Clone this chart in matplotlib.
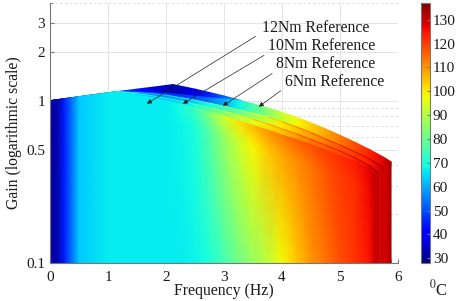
import numpy as np
import matplotlib
matplotlib.use("Agg")
import matplotlib.pyplot as plt
from matplotlib.ticker import NullFormatter, FixedLocator
from matplotlib.collections import LineCollection

plt.rcParams['font.family'] = ['Liberation Serif', 'DejaVu Serif']
plt.rcParams['mathtext.fontset'] = 'stix'

# ---------------- data ----------------
# cold "cap" band near the gain peak
cap_f = [1.15, 1.5, 1.75, 2.0, 2.12, 2.25, 2.5, 2.75, 3.0, 3.3]
cap_g = [1.137, 1.179, 1.209, 1.241, 1.257, 1.230, 1.179, 1.124, 1.070, 1.003]
cap_T = [50, 44, 38, 34, 33, 34, 38, 45, 52, 60]

# 6 Nm reference surface (outermost at high frequency)
f6 = [0, 1.15, 1.5, 1.75, 2.0, 2.25, 2.5, 2.75, 3.0, 3.25, 3.5, 3.75, 4.0, 4.25, 4.5, 4.75, 5.0, 5.25, 5.5, 5.75, 5.88]
g6 = [1.00, 1.137, 1.129, 1.121, 1.113, 1.090, 1.066, 1.044, 1.022, 1.006, 0.958, 0.905, 0.848, 0.790, 0.730, 0.670, 0.612, 0.556, 0.502, 0.449, 0.420]
T6 = [30, 55, 50, 48, 47, 48, 50, 54, 60, 68, 76, 84, 92, 98, 103, 108, 113, 118, 123, 128, 133]

# 8 Nm reference surface
f8 = [0, 1.15, 1.5, 1.75, 2.0, 2.25, 2.5, 2.75, 3.0, 3.25, 3.5, 3.75, 4.0, 4.25, 4.5, 4.75, 5.0, 5.25, 5.5, 5.74]
g8 = [1.00, 1.137, 1.121, 1.105, 1.082, 1.044, 1.007, 0.965, 0.924, 0.879, 0.836, 0.790, 0.741, 0.690, 0.637, 0.581, 0.533, 0.486, 0.439, 0.389]
T8 = [30, 60, 56, 56, 57, 60, 64, 69, 74, 79, 86, 93, 100, 105, 109, 113, 117, 120, 124, 130]

# 10 Nm reference surface
f10 = [0, 1.15, 1.5, 1.75, 2.0, 2.25, 2.5, 2.75, 3.0, 3.25, 3.5, 3.75, 4.0, 4.25, 4.5, 4.75, 5.0, 5.25, 5.5, 5.66]
g10 = [1.00, 1.137, 1.105, 1.074, 1.036, 0.993, 0.951, 0.905, 0.861, 0.813, 0.767, 0.720, 0.670, 0.624, 0.577, 0.533, 0.489, 0.446, 0.400, 0.357]
T10 = [30, 62, 62, 62, 63, 65, 69, 76, 83, 90, 96, 101, 105, 109, 113, 116, 119, 122, 126, 131]

# 12 Nm reference surface (front)
f12 = [0, 0.10, 0.25, 0.50, 1.00, 1.15, 1.5, 1.75, 2.0, 2.25, 2.5, 2.75, 3.0, 3.25, 3.5, 3.75, 4.0, 4.25, 4.5, 4.75, 5.0, 5.25, 5.5, 5.60]
g12 = [1.00, 1.012, 1.03, 1.06, 1.12, 1.137, 1.082, 1.044, 1.0, 0.951, 0.905, 0.855, 0.807, 0.751, 0.704, 0.661, 0.615, 0.577, 0.537, 0.496, 0.459, 0.424, 0.384, 0.342]
T12_top = [34, 31, 45, 63, 67, 67, 67, 67, 67, 69, 74, 84, 94, 101, 106, 110, 113, 116, 118, 120, 122, 124, 127, 131]
T12_mid = [34, 31, 45, 63, 67, 67, 67, 67, 67, 68, 70, 77, 86, 93, 99, 104, 108, 111, 114, 117, 120, 122, 126, 130]
T12_bot = [34, 31, 45, 63, 67, 67, 67, 67, 67, 67, 68, 70, 75, 81, 86, 91, 98, 104, 110, 114, 118, 121, 125, 130]

labels = ['12Nm Reference', '10Nm Reference', '8Nm Reference', '6Nm Reference']
label_xy = [(3.655, 2.80), (3.76, 2.165), (3.90, 1.673), (4.05, 1.312)]
arrow_tail = [(3.55, 2.497), (3.69, 1.903), (3.83, 1.47), (3.98, 1.154)]
arrow_tip = [(1.67, 0.958), (2.29, 0.958), (2.98, 0.931), (3.60, 0.918)]

cbar_ticks = [30, 40, 50, 60, 70, 80, 90, 100, 110, 120, 130]
xticks = [0, 1, 2, 3, 4, 5, 6]
yticks = [0.1, 0.5, 1, 2, 3]
yticklabels = ['0.1', '0.5', '1', '2', '3']
yminor = [0.2, 0.3, 0.4, 0.6, 0.7, 0.8, 0.9, 4]

# ---------------- styling constants ----------------
W, H = 463, 301
YMIN, YMAX = 0.1, 4.0
VMIN, VMAX = 28, 137
MID = 0.75
FS = 11
FS_TXT = 11.3
TXT = '#1a1a1a'
AX = '#777777'
EDGE_DT = 8

fig = plt.figure(figsize=(W / 100, H / 100), dpi=100)
ax = fig.add_axes([50 / W, 1 - 263 / H, 348 / W, 260 / H])
cmap = plt.get_cmap('jet')
norm = plt.Normalize(VMIN, VMAX)


def layer(f, g, Ttop, Tmid=None, Tbot=None):
    f = np.asarray(f, float)
    g = np.asarray(g, float)
    base = np.full_like(g, YMIN)
    if Tmid is None:
        Y = np.vstack([base, g])
        C = np.vstack([Ttop, Ttop])
    else:
        Y = np.vstack([base, g * MID, g])
        C = np.vstack([Tbot, Tmid, Ttop])
    X = np.vstack([f] * Y.shape[0])
    return ax.pcolormesh(X, Y, np.asarray(C, float), shading='gouraud',
                         cmap=cmap, norm=norm, zorder=1)


def edge(f, g, T):
    # thin surface edge line along the top of an inner layer
    pts = np.column_stack([f, g])
    segs = np.stack([pts[:-1], pts[1:]], axis=1)
    Tm = 0.5 * (np.asarray(T[:-1], float) + np.asarray(T[1:], float)) + EDGE_DT
    lc = LineCollection(segs, colors=cmap(norm(Tm)), linewidths=0.6, zorder=2)
    ax.add_collection(lc)


layer(cap_f, cap_g, cap_T)
layer(f6, g6, T6)
layer(f8, g8, T8)
edge(f8[1:], g8[1:], T8[1:])
layer(f10, g10, T10)
edge(f10[1:], g10[1:], T10[1:])
mesh = layer(f12, g12, T12_top, T12_mid, T12_bot)

ax.set_yscale('log')
ax.set_xlim(0, 6)
ax.set_ylim(YMIN, YMAX)
ax.set_xticks(xticks)
ax.set_yticks(yticks)
ax.set_yticklabels(yticklabels)
ax.yaxis.set_minor_locator(FixedLocator(yminor))
ax.yaxis.set_minor_formatter(NullFormatter())

ax.set_axisbelow(True)
ax.grid(which='major', color='#e3e3e3', lw=0.7, ls='-')
ax.grid(which='minor', axis='y', color='#dcdcdc', lw=0.7, ls=(0, (2.5, 2.5)))

for s in ['top', 'right']:
    ax.spines[s].set_visible(False)
for s in ['left', 'bottom']:
    ax.spines[s].set_color(AX)
    ax.spines[s].set_linewidth(0.8)
ax.tick_params(which='both', direction='in', color=AX, labelcolor=TXT, labelsize=FS)
ax.tick_params(which='major', length=3)
ax.tick_params(which='minor', length=1.8)
ax.tick_params(axis='x', pad=6)

ax.set_xlabel('Frequency (Hz)', fontsize=FS_TXT, color=TXT, labelpad=-1)
ax.set_ylabel('Gain (logarithmic scale)', fontsize=FS_TXT, color=TXT, labelpad=3)

for lab, pos, tail, tip in zip(labels, label_xy, arrow_tail, arrow_tip):
    ax.annotate('', xy=tip, xytext=tail,
                arrowprops=dict(arrowstyle='-|>', lw=0.5, color='#222222',
                                mutation_scale=7, shrinkA=0, shrinkB=0))
    ax.text(pos[0], pos[1], lab, fontsize=FS_TXT, color=TXT, ha='left', va='center')

cax = fig.add_axes([421 / W, 1 - 263 / H, 9 / W, 260 / H])
cb = fig.colorbar(mesh, cax=cax, ticks=cbar_ticks)
cb.outline.set_edgecolor(AX)
cb.outline.set_linewidth(0.8)
cax.tick_params(direction='in', length=2.5, color=AX, labelcolor=TXT, labelsize=FS, pad=2)
fig.text(438 / W, 1 - 289 / H, r'$^{0}$C', fontsize=FS + 1, color=TXT, ha='center', va='center')

fig.savefig('out.png', dpi=100)
